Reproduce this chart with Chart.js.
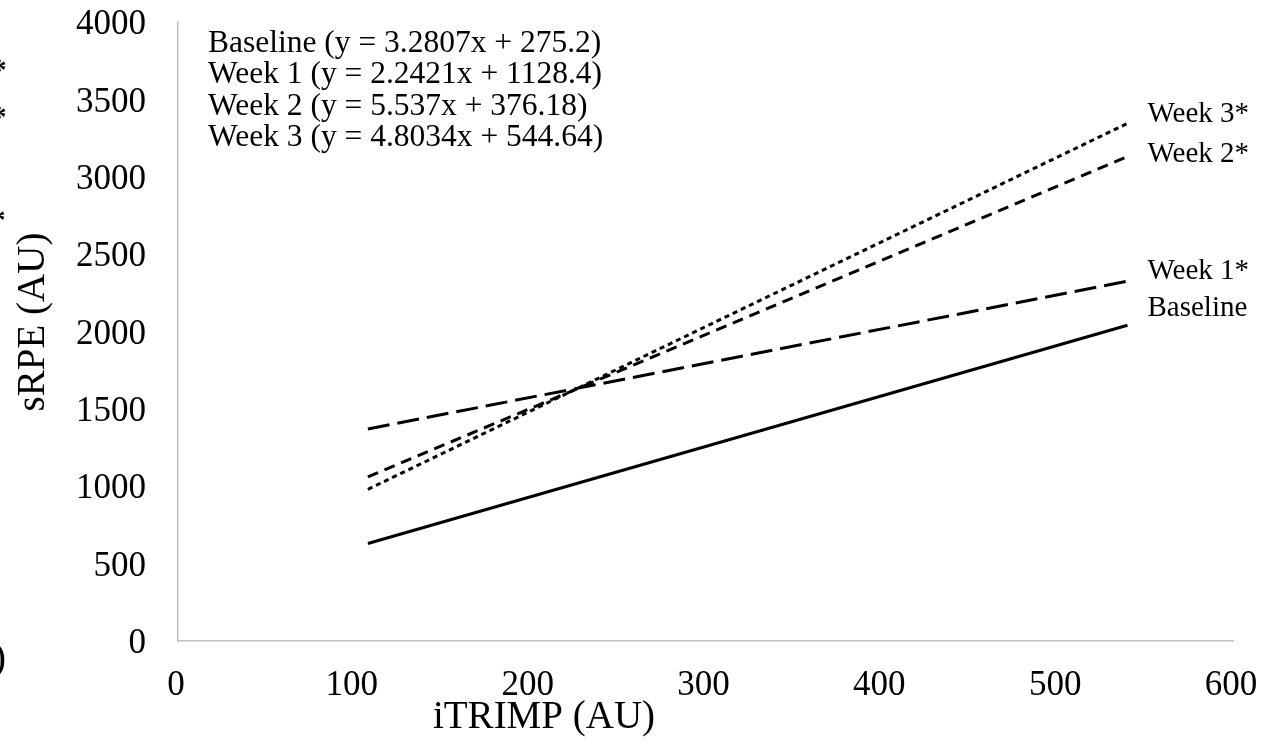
<!DOCTYPE html>
<html>
<head>
<meta charset="utf-8">
<script src="https://cdn.jsdelivr.net/npm/chart.js@4/dist/chart.umd.min.js"></script>
<style>
html,body{margin:0;padding:0;background:#fff;}
#wrap{width:1269px;height:747px;}
</style>
</head>
<body>
<div id="wrap"><canvas id="c" width="1269" height="747"></canvas></div>
<script>
// ---- data ----
const xStart = 108, xEnd = 540;
const baselineVals = [630, 2040];
const week1Vals = [1370, 2325];
const week2Vals = [1060, 3130];
const week3Vals = [980, 3345];
const seriesNames = ['Baseline', 'Week 1*', 'Week 2*', 'Week 3*'];
const equationLines = [
  'Baseline (y = 3.2807x + 275.2)',
  'Week 1 (y = 2.2421x + 1128.4)',
  'Week 2 (y = 5.537x + 376.18)',
  'Week 3 (y = 4.8034x + 544.64)'
];
const xTitle = 'iTRIMP (AU)';
const yTitle = 'sRPE (AU)';

// ---- styling ----
const SERIF = '"Liberation Serif", "Times New Roman", serif';
const labelDy = [-17, -10, -2, -9];
const dashes = [[], [22, 8], [11, 7], [5, 4]];

function pts(vals){ return [{x:xStart, y:vals[0]}, {x:xEnd, y:vals[1]}]; }
const allVals = [baselineVals, week1Vals, week2Vals, week3Vals];

const datasets = allVals.map((v, i) => ({
  label: seriesNames[i],
  data: pts(v),
  showLine: true,
  borderColor: '#000',
  borderWidth: 3,
  borderDash: dashes[i],
  borderCapStyle: 'butt',
  pointRadius: 0,
  fill: false
}));

const textPlugin = {
  id: 'texts',
  afterDraw(chart){
    const ctx = chart.ctx;
    const xs = chart.scales.x, ys = chart.scales.y;
    ctx.save();
    ctx.fillStyle = '#000';
    // end labels
    ctx.font = '29px ' + SERIF;
    ctx.textBaseline = 'middle';
    ctx.textAlign = 'left';
    chart.data.datasets.forEach((ds, i) => {
      const last = ds.data[ds.data.length - 1];
      ctx.fillText(ds.label, xs.getPixelForValue(last.x) + 20, ys.getPixelForValue(last.y) + labelDy[i]);
    });
    // equations
    ctx.font = '31.5px ' + SERIF;
    ctx.textBaseline = 'alphabetic';
    equationLines.forEach((t, i) => ctx.fillText(t, 208, 52 + i * 31.3));
    // axis titles
    ctx.font = '39px ' + SERIF;
    ctx.textAlign = 'center';
    ctx.textBaseline = 'middle';
    ctx.fillText(xTitle, 544, 718);
    ctx.save();
    ctx.translate(34, 322);
    ctx.rotate(-Math.PI / 2);
    ctx.fillText(yTitle, 0, 0);
    ctx.restore();
    // cropped fragments at left edge
    ctx.font = 'bold 29px ' + SERIF;
    ctx.textAlign = 'left';
    ctx.fillText('*', -8, 72);
    ctx.fillText('*', -8, 119);
    ctx.fillText('*', -9, 222);
    ctx.font = '39px ' + SERIF;
    ctx.fillText(')', -7, 660);
    ctx.restore();
  }
};

const tickFmt = v => String(v);

new Chart(document.getElementById('c'), {
  type: 'scatter',
  data: { datasets },
  options: {
    responsive: false,
    animation: false,
    layout: { padding: { left: 0, right: 36, top: 22, bottom: 0 } },
    plugins: { legend: { display: false }, tooltip: { enabled: false } },
    scales: {
      x: {
        type: 'linear', min: 0, max: 600,
        grid: { display: false, drawTicks: false },
        border: { display: true, color: '#c0c0c0', width: 1.5 },
        ticks: { stepSize: 100, color: '#000', font: { family: SERIF, size: 35 }, padding: 24, labelOffset: -2, callback: tickFmt },
        afterFit(s){ s.height = 106; s.paddingLeft = 0; s.paddingRight = 0; }
      },
      y: {
        type: 'linear', min: 0, max: 4000,
        grid: { display: false, drawTicks: false },
        border: { display: true, color: '#c0c0c0', width: 1.5 },
        ticks: { stepSize: 500, color: '#000', font: { family: SERIF, size: 35 }, padding: 32, labelOffset: 3, callback: tickFmt },
        afterFit(s){ s.width = 178; s.paddingTop = 0; s.paddingBottom = 0; }
      }
    }
  },
  plugins: [textPlugin]
});
</script>
</body>
</html>
